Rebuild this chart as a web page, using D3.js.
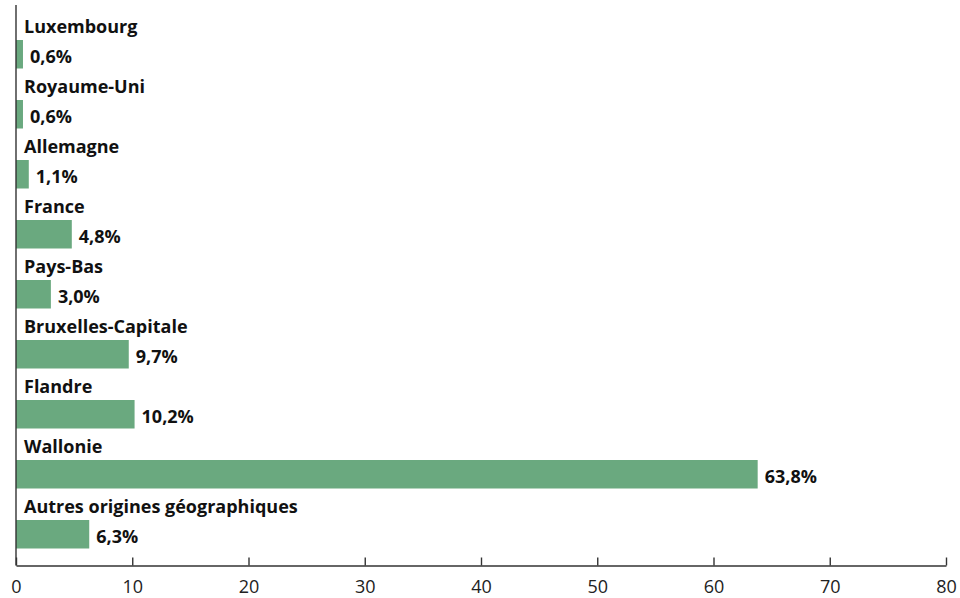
<!DOCTYPE html>
<html>
<head>
<meta charset="utf-8">
<script src="https://cdn.jsdelivr.net/npm/d3@7"></script>
<style>
  html, body { margin: 0; padding: 0; background: #fff; }
  svg { display: block; }
</style>
</head>
<body>
<svg id="chart" width="960" height="598"></svg>
<script>
// Origine géographique (%)
const categories = [
  "Luxembourg", "Royaume-Uni", "Allemagne", "France", "Pays-Bas",
  "Bruxelles-Capitale", "Flandre", "Wallonie", "Autres origines géographiques"
];
const values = [0.6, 0.6, 1.1, 4.8, 3.0, 9.7, 10.2, 63.8, 6.3];
const tickValues = [0, 10, 20, 30, 40, 50, 60, 70, 80];

const svg = d3.select("#chart");
const font = "'Open Sans', 'Noto Sans', sans-serif";

const x = d3.scaleLinear().domain([0, 80]).range([16, 946]);
const y = d3.scaleBand().domain(categories).range([24.25, 564.25]).paddingInner(0.525).paddingOuter(0.2625);

const fmt = v => d3.format(".1f")(v).replace(".", ",") + "%";

// bars
svg.append("g").selectAll("rect")
  .data(categories)
  .join("rect")
  .attr("x", x(0))
  .attr("y", d => y(d))
  .attr("width", (d, i) => x(values[i]) - x(0))
  .attr("height", y.bandwidth())
  .attr("fill", "#6aa97f");

// category labels above each bar
svg.append("g").selectAll("text")
  .data(categories)
  .join("text")
  .attr("x", 24)
  .attr("y", d => y(d) - 7.5)
  .attr("font-family", font)
  .attr("font-weight", 700)
  .attr("font-size", 18)
  .attr("fill", "#111")
  .text(d => d);

// value labels at the end of each bar
svg.append("g").selectAll("text")
  .data(categories)
  .join("text")
  .attr("x", (d, i) => x(values[i]) + 7)
  .attr("y", d => y(d) + 22.7)
  .attr("font-family", font)
  .attr("font-weight", 700)
  .attr("font-size", 18)
  .attr("fill", "#111")
  .text((d, i) => fmt(values[i]));

// bottom axis with ticks pointing upward
const axis = svg.append("g")
  .attr("transform", "translate(0,565.5)")
  .call(d3.axisBottom(x).tickValues(tickValues).tickSizeInner(-8).tickSizeOuter(0).tickPadding(0));
axis.select(".domain").attr("stroke", "#333").attr("stroke-width", 1.4);
axis.selectAll(".tick line").attr("stroke", "#333").attr("stroke-width", 1.4);
axis.selectAll(".tick text")
  .attr("y", 27)
  .attr("dy", 0)
  .attr("font-family", font)
  .attr("font-size", 18)
  .attr("fill", "#222")
  .text(d => d);

// vertical baseline
svg.append("line")
  .attr("x1", x(0)).attr("x2", x(0))
  .attr("y1", 5).attr("y2", 565.5)
  .attr("stroke", "#333")
  .attr("stroke-width", 1.4);
</script>
</body>
</html>
